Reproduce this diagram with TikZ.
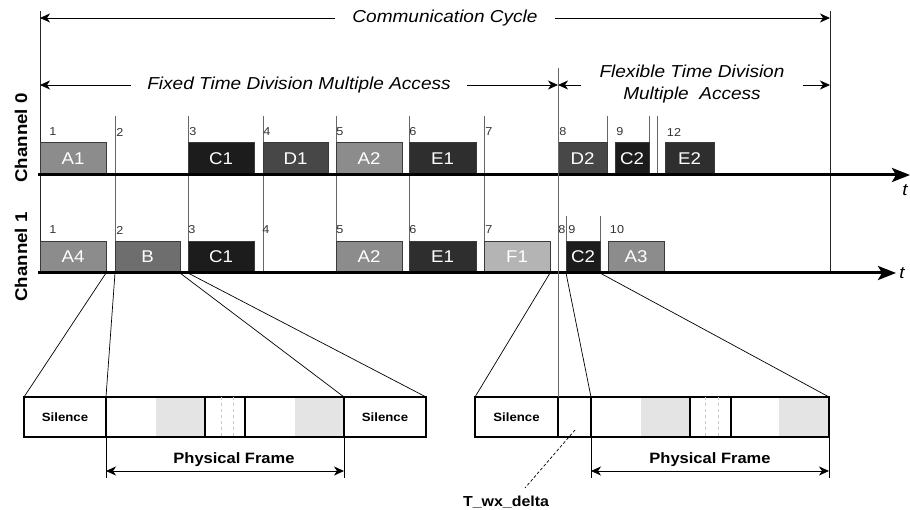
\documentclass[tikz,border=0pt]{standalone}
\usepackage{fontspec}
\setmainfont{Liberation Sans}[FakeStretch=1.1]
\usetikzlibrary{arrows.meta}

\definecolor{pA}{HTML}{8C8C8C}
\definecolor{pB}{HTML}{6E6E6E}
\definecolor{pC}{HTML}{1C1C1C}
\definecolor{pD}{HTML}{474747}
\definecolor{pE}{HTML}{2E2E2E}
\definecolor{pF}{HTML}{B4B4B4}
\definecolor{pktedge}{HTML}{3A3A3A}
\definecolor{slotgray}{HTML}{666666}
\definecolor{numgray}{HTML}{333333}
\definecolor{bitshade}{HTML}{E4E4E4}
\definecolor{faint}{HTML}{C8C8C8}

\begin{document}
\begin{tikzpicture}[x=1pt,y=-1pt,
  pkt/.style={draw=pktedge, line width=0.7pt, inner sep=0pt, outer sep=0pt,
    text=white, font=\fontsize{17}{19}\selectfont},
  slotline/.style={draw=slotgray, line width=0.9pt},
  cycline/.style={draw=black!85, line width=0.9pt},
  axis/.style={line width=3pt, -{Stealth[length=18pt,width=14pt,inset=4pt]}},
  dim/.style={line width=0.8pt, -{Stealth[length=10pt,width=9pt,inset=3pt]}},
  dimboth/.style={line width=0.8pt, {Stealth[length=10pt,width=9pt,inset=3pt]}-{Stealth[length=10pt,width=9pt,inset=3pt]}},
  num/.style={font=\fontsize{11.5}{13}\selectfont, text=numgray, inner sep=0pt},
  seg/.style={draw, line width=1.8pt, inner sep=0pt, outer sep=0pt, minimum height=40pt},
  leader/.style={line width=0.7pt},
  chlabel/.style={rotate=90, font=\fontsize{17}{20}\selectfont\bfseries, inner sep=0pt},
  span/.style={font=\fontsize{17.3}{22}\selectfont\itshape, inner xsep=17pt, inner ysep=0pt, align=center},
  small/.style={font=\fontsize{12}{14}\selectfont\bfseries, inner sep=0pt},
  frame/.style={font=\fontsize{15}{17}\selectfont\bfseries, inner sep=0pt},
  faintdash/.style={draw=faint, line width=0.6pt, dash pattern=on 3pt off 3pt}
]
\useasboundingbox (0,0) rectangle (910,510);

% ---------- cycle boundaries ----------
\coordinate (cycTL) at (40,11);
\coordinate (cycBL) at (40,273);
\coordinate (cycTR) at (830,11);
\coordinate (cycBR) at (830,273);
\draw[cycline] (cycTL) -- (cycBL);
\draw[cycline] (cycTR) -- (cycBR);

% ---------- static / dynamic boundary ----------
\coordinate (segTop) at (558,68);

% ---------- slot grid ----------
\foreach \x in {115,188,263,336,409,484}{
  \draw[slotline] (\x,116) -- (\x,273);
}
\foreach \x in {607,649,657}{
  \draw[slotline] (\x,116) -- (\x,175);
}
\foreach \x in {566,600}{
  \draw[slotline] (\x,216) -- (\x,273);
}

% ---------- channel labels ----------
\node[chlabel] (ch0) at (21,138) {Channel 0};
\node[chlabel] (ch1) at (21,257) {Channel 1};

% ---------- spans ----------
\node[span] (cc) at (445,18) {Communication Cycle};
\draw[dim] (cc.west) -- (cycTL |- cc.west);
\draw[dim] (cc.east) -- (cycTR |- cc.east);

\node[span, inner xsep=16pt] (ftdma) at (299,85) {Fixed Time Division Multiple Access};
\draw[dim] (ftdma.west) -- (cycTL |- ftdma.west);
\draw[dim] (ftdma.east) -- (segTop |- ftdma.east);

\node[span, inner xsep=18pt] (dtdma) at (692,84) {Flexible Time Division\\Multiple\ \ Access};
\draw[dim] (dtdma.west |- 0,85) -- (segTop |- 0,85);
\draw[dim] (dtdma.east |- 0,85) -- (cycTR |- 0,85);

% ---------- channel 0 frames ----------
\node[pkt, fill=pA, minimum width=66pt, minimum height=33pt] (c0A1) at (73,158.5) {A1};
\node[pkt, fill=pC, minimum width=66pt, minimum height=33pt] (c0C1) at (221,158.5) {C1};
\node[pkt, fill=pD, minimum width=65pt, minimum height=33pt] (c0D1) at (295.5,158.5) {D1};
\node[pkt, fill=pA, minimum width=66pt, minimum height=33pt] (c0A2) at (369,158.5) {A2};
\node[pkt, fill=pE, minimum width=67pt, minimum height=33pt] (c0E1) at (442.5,158.5) {E1};
\node[pkt, fill=pD, minimum width=49pt, minimum height=33pt] (c0D2) at (582.5,158.5) {D2};
\node[pkt, fill=pC, minimum width=34pt, minimum height=33pt] (c0C2) at (632,158.5) {C2};
\node[pkt, fill=pE, minimum width=49pt, minimum height=33pt] (c0E2) at (689.5,158.5) {E2};

% ---------- channel 1 frames ----------
\node[pkt, fill=pA, minimum width=66pt, minimum height=32pt] (c1A4) at (73,257) {A4};
\node[pkt, fill=pB, minimum width=65pt, minimum height=32pt] (c1B)  at (147.5,257) {B};
\node[pkt, fill=pC, minimum width=66pt, minimum height=32pt] (c1C1) at (221,257) {C1};
\node[pkt, fill=pA, minimum width=66pt, minimum height=32pt] (c1A2) at (369,257) {A2};
\node[pkt, fill=pE, minimum width=67pt, minimum height=32pt] (c1E1) at (442.5,257) {E1};
\node[pkt, fill=pF, minimum width=66pt, minimum height=32pt] (c1F1) at (517,257) {F1};
\node[pkt, fill=pC, minimum width=34pt, minimum height=32pt] (c1C2) at (583,257) {C2};
\node[pkt, fill=pA, minimum width=56pt, minimum height=32pt] (c1A3) at (636,257) {A3};

% ---------- slot numbers ----------
\foreach \x/\n in {53/1,120/2,193/3,267/4,340/5,413/6,489/7,563/8,620/9,674/12}{
  \node[num] at (\x,132) {\n};
}
\foreach \x/\n in {53/1,120/2,192/3,266/4,340/5,413/6,489/7,562/8,572/9,617/10}{
  \node[num] at (\x,230) {\n};
}

% ---------- time axes ----------
\coordinate (ax0s) at (38,175);
\coordinate (ax0e) at (910,175);
\coordinate (ax1s) at (38,273);
\coordinate (ax1e) at (896,273);
\draw[axis] (ax0s) -- (ax0e);
\draw[axis] (ax1s) -- (ax1e);
\node[font=\fontsize{17}{20}\selectfont\itshape, inner sep=0pt] (t0) at (905,190) {t};
\node[font=\fontsize{17}{20}\selectfont\itshape, inner sep=0pt] (t1) at (902,273) {t};

% ---------- bit-level view, static segment ----------
\fill[bitshade] (156,397) rectangle (205,437);
\fill[bitshade] (295,397) rectangle (344,437);
\node[seg, minimum width=82pt] (silL)  at (65,417)    {};
\node[seg, minimum width=99pt] (pfL1)  at (155.5,417) {};
\node[seg, minimum width=40pt] (gapL)  at (225,417)   {};
\node[seg, minimum width=99pt] (pfL2)  at (294.5,417) {};
\node[seg, minimum width=82pt] (silL2) at (385,417)   {};
\node[small] at (silL)  {Silence};
\node[small] at (silL2) {Silence};
\draw[faintdash] (221,397) -- (221,437);
\draw[faintdash] (233,397) -- (233,437);

% ---------- bit-level view, dynamic segment ----------
\fill[bitshade] (641,397) rectangle (690,437);
\fill[bitshade] (779,397) rectangle (829,437);
\node[seg, minimum width=83pt] (silR) at (516.5,417) {};
\node[seg, minimum width=33pt] (twx)  at (574.5,417) {};
\node[seg, minimum width=99pt] (pfR1) at (640.5,417) {};
\node[seg, minimum width=41pt] (gapR) at (710.5,417) {};
\node[seg, minimum width=98pt] (pfR2) at (780,417)   {};
\node[small] at (silR) {Silence};
\draw[faintdash] (705,397) -- (705,437);
\draw[faintdash] (718,397) -- (718,437);

% ---------- boundary line down to the bit-level view ----------
\draw[slotline] (segTop) -- (silR.north east);

% ---------- zoom leaders ----------
\draw[leader] (c1A4.south east) -- (silL.north west);
\draw[leader] (c1B.south west)  -- (pfL1.north west);
\draw[leader] (c1B.south east)  -- (pfL2.north east);
\draw[leader] (c1C1.south west) -- (silL2.north east);
\draw[leader] (c1F1.south east) -- (silR.north west);
\draw[leader] (c1C2.south west) -- (twx.north east);
\draw[leader] (c1C2.south east) -- (pfR2.north east);

% ---------- physical frame dimensions ----------
\coordinate (pfLa) at (106,478);
\coordinate (pfLb) at (344,478);
\draw[leader] (pfL1.south west) -- (pfLa);
\draw[leader] (pfL2.south east) -- (pfLb);
\draw[dimboth] (pfL1.south west |- 0,471) -- (pfL2.south east |- 0,471);
\node[frame] (pfLtext) at (234,460) {Physical Frame};

\coordinate (pfRa) at (591,478);
\coordinate (pfRb) at (829,478);
\draw[leader] (pfR1.south west) -- (pfRa);
\draw[leader] (pfR2.south east) -- (pfRb);
\draw[dimboth] (pfR1.south west |- 0,471) -- (pfR2.south east |- 0,471);
\node[frame] (pfRtext) at (710,460) {Physical Frame};

% ---------- T_wx_delta callout ----------
\coordinate (twxpt) at (575,430);
\coordinate (twxend) at (525,488);
\draw[leader, dash pattern=on 3pt off 2pt] (twxpt) -- (twxend);
\node[frame, font=\fontsize{14.5}{17}\selectfont\bfseries] (twxlab) at (506,502) {T\_wx\_delta};

\end{tikzpicture}
\end{document}
